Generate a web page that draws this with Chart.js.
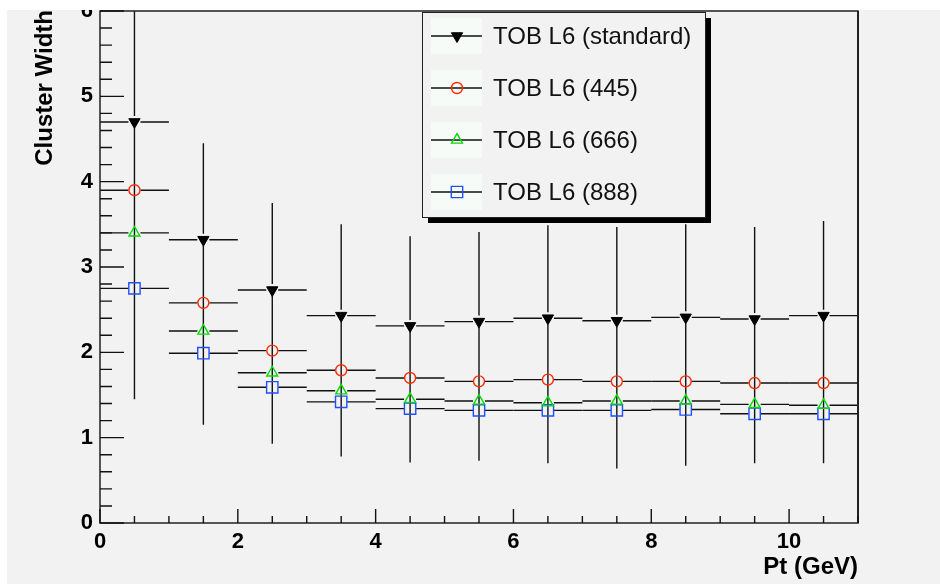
<!DOCTYPE html>
<html>
<head>
<meta charset="utf-8">
<title>TOB L6 cluster width vs Pt</title>
<script src="https://cdn.jsdelivr.net/npm/chart.js@4.4.1/dist/chart.umd.min.js"></script>
<style>
  html, body { margin: 0; padding: 0; background: #fff; }
  canvas { display: block; }
</style>
</head>
<body>
<canvas id="chart" width="940" height="584"></canvas>
<script>
// ---------------- Data ----------------
const ptBins = [0.5, 1.5, 2.5, 3.5, 4.5, 5.5, 6.5, 7.5, 8.5, 9.5, 10.5];
const binHalfWidth = 0.5;

const seriesLabels = ["TOB L6 (standard)", "TOB L6 (445)", "TOB L6 (666)", "TOB L6 (888)"];

const widthStandard = [4.70, 3.32, 2.73, 2.43, 2.31, 2.36, 2.40, 2.37, 2.41, 2.39, 2.43];
const standardLow   = [1.45, 1.15, 0.93, 0.78, 0.71, 0.73, 0.70, 0.64, 0.67, 0.70, 0.70];
const standardHigh  = [7.95, 4.45, 3.75, 3.50, 3.36, 3.41, 3.49, 3.47, 3.50, 3.47, 3.54];
const width445 = [3.90, 2.58, 2.02, 1.79, 1.70, 1.66, 1.68, 1.66, 1.66, 1.64, 1.64];
const width666 = [3.40, 2.25, 1.76, 1.55, 1.45, 1.43, 1.41, 1.43, 1.43, 1.39, 1.38];
const width888 = [2.75, 1.99, 1.59, 1.42, 1.34, 1.32, 1.32, 1.32, 1.33, 1.28, 1.28];

const xTickValues = [0, 2, 4, 6, 8, 10];
const yTickValues = [0, 1, 2, 3, 4, 5, 6];
const xRange = [0, 11];
const yRange = [0, 6];

// ---------------- Styling ----------------
const BG = "#f2f2f2";
const INK = "#111";
const FONT = "'Liberation Sans', Arial, Helvetica, sans-serif";

function points(values) {
  return ptBins.map((x, i) => ({ x, y: values[i] }));
}

const datasets = [
  {
    label: seriesLabels[0], data: points(widthStandard),
    pointStyle: "triangle", pointRotation: 180, pointRadius: 6.5,
    pointBackgroundColor: "#000", pointBorderColor: "#000", pointBorderWidth: 1,
    errLow: standardLow, errHigh: standardHigh, markerGap: 6
  },
  {
    label: seriesLabels[1], data: points(width445),
    pointStyle: "circle", pointRadius: 5.5,
    pointBackgroundColor: "rgba(0,0,0,0)", pointBorderColor: "#ff2a00", pointBorderWidth: 1.4,
    markerGap: 6
  },
  {
    label: seriesLabels[2], data: points(width666),
    pointStyle: "triangle", pointRotation: 0, pointRadius: 6.3,
    pointBackgroundColor: "rgba(0,0,0,0)", pointBorderColor: "#00dd00", pointBorderWidth: 1.4,
    markerGap: 6
  },
  {
    label: seriesLabels[3], data: points(width888),
    pointStyle: "rect", pointRadius: 8, pointBackgroundColor: "rgba(0,0,0,0)",
    pointBorderColor: "#1f4fff", pointBorderWidth: 1.4,
    markerGap: 6
  }
];

// ---------------- Plugins ----------------
const background = {
  id: "background",
  beforeDraw(chart) {
    const { ctx, width, height } = chart;
    ctx.save();
    ctx.fillStyle = BG;
    ctx.fillRect(0, 0, width, height);
    ctx.restore();
  }
};

// horizontal bin-width bars for every series, vertical spread for the standard one
const errorBars = {
  id: "errorBars",
  beforeDatasetsDraw(chart) {
    const { ctx, chartArea: a, scales: { x, y } } = chart;
    ctx.save();
    ctx.beginPath();
    ctx.rect(a.left, a.top, a.right - a.left, a.bottom - a.top);
    ctx.clip();
    ctx.strokeStyle = INK;
    ctx.lineWidth = 1.4;
    chart.data.datasets.forEach(ds => {
      const g = ds.markerGap;
      ds.data.forEach((p, i) => {
        const px = x.getPixelForValue(p.x);
        const py = y.getPixelForValue(p.y);
        const x0 = x.getPixelForValue(p.x - binHalfWidth);
        const x1 = x.getPixelForValue(p.x + binHalfWidth);
        ctx.beginPath();
        ctx.moveTo(x0, py); ctx.lineTo(px - g, py);
        ctx.moveTo(px + g, py); ctx.lineTo(x1, py);
        if (ds.errLow) {
          ctx.moveTo(px, y.getPixelForValue(ds.errHigh[i])); ctx.lineTo(px, py - g);
          ctx.moveTo(px, py + g); ctx.lineTo(px, y.getPixelForValue(ds.errLow[i]));
        }
        ctx.stroke();
      });
    });
    ctx.restore();
  }
};

// frame, inward ticks, axis titles, legend box
const frame = {
  id: "frame",
  afterDraw(chart) {
    const { ctx, chartArea: a, scales: { x, y } } = chart;
    ctx.save();

    ctx.strokeStyle = "#222";
    ctx.lineWidth = 1.5;
    ctx.strokeRect(a.left, a.top, a.right - a.left, a.bottom - a.top);
    ctx.lineWidth = 2;
    ctx.beginPath();
    ctx.moveTo(a.right, a.top); ctx.lineTo(a.right, a.bottom);
    ctx.stroke();

    // y ticks every 0.2, major every 1
    ctx.lineWidth = 1.4;
    ctx.strokeStyle = INK;
    ctx.beginPath();
    for (let k = 0; k <= 30; k++) {
      const py = y.getPixelForValue(k * 0.2);
      const len = k % 5 === 0 ? 24 : 12;
      ctx.moveTo(a.left, py); ctx.lineTo(a.left + len, py);
    }
    // x ticks every 0.5, major every 2
    for (let k = 0; k <= 22; k++) {
      const px = x.getPixelForValue(k * 0.5);
      const len = k % 4 === 0 ? 14 : 7;
      ctx.moveTo(px, a.bottom); ctx.lineTo(px, a.bottom - len);
    }
    ctx.stroke();

    // axis titles
    ctx.fillStyle = "#000";
    ctx.font = "bold 24px " + FONT;
    ctx.textAlign = "right";
    ctx.textBaseline = "alphabetic";
    ctx.fillText("Pt (GeV)", a.right, 574);
    ctx.save();
    ctx.translate(52, a.top - 1);
    ctx.rotate(-Math.PI / 2);
    ctx.fillText("Cluster Width", 0, 0);
    ctx.restore();

    // legend
    const lx = 422, ly = 12, lw = 283, lh = 205;
    ctx.fillStyle = "#000";
    ctx.fillRect(lx + 6, ly + 6, lw, lh);
    ctx.fillStyle = BG;
    ctx.fillRect(lx, ly, lw, lh);
    ctx.strokeStyle = "#222";
    ctx.lineWidth = 1;
    ctx.strokeRect(lx + 0.5, ly + 0.5, lw, lh);

    const rowH = 52;
    chart.data.datasets.forEach((ds, i) => {
      const cy = 36 + i * rowH;
      ctx.fillStyle = "#f7fbf7";
      ctx.fillRect(431, cy - 18, 51, 36);
      ctx.strokeStyle = INK;
      ctx.lineWidth = 1.4;
      ctx.beginPath();
      ctx.moveTo(431, cy); ctx.lineTo(482, cy);
      ctx.stroke();
      ctx.fillStyle = ds.pointBackgroundColor;
      ctx.strokeStyle = ds.pointBorderColor;
      ctx.lineWidth = ds.pointBorderWidth;
      Chart.helpers.drawPoint(ctx, {
        pointStyle: ds.pointStyle, radius: ds.pointRadius,
        rotation: ds.pointRotation || 0, borderWidth: ds.pointBorderWidth
      }, 457, cy);
      ctx.fillStyle = "#111";
      ctx.font = "24px " + FONT;
      ctx.textAlign = "left";
      ctx.textBaseline = "middle";
      ctx.fillText(ds.label, 493, cy + 1);
    });

    // page margin outside the pad
    ctx.fillStyle = "#fff";
    ctx.fillRect(0, 0, chart.width, 10);
    ctx.fillRect(0, 0, 7, chart.height);
    ctx.restore();
  }
};

// ---------------- Chart ----------------
new Chart(document.getElementById("chart"), {
  type: "scatter",
  data: { datasets },
  options: {
    responsive: false,
    animation: false,
    devicePixelRatio: 1,
    layout: { padding: { left: 7, top: 11, right: 82, bottom: 0 } },
    plugins: { legend: { display: false }, tooltip: { enabled: false } },
    scales: {
      x: {
        type: "linear", min: xRange[0], max: xRange[1],
        afterFit: s => { s.height = 61; s.paddingLeft = 0; s.paddingRight = 0; },
        afterBuildTicks: s => { s.ticks = xTickValues.map(v => ({ value: v })); },
        grid: { display: false, drawTicks: false },
        border: { display: false },
        ticks: { color: "#000", padding: 6, font: { family: FONT, size: 22, weight: "bold" }, maxRotation: 0 }
      },
      y: {
        type: "linear", min: yRange[0], max: yRange[1],
        afterFit: s => { s.width = 93; s.paddingTop = 0; s.paddingBottom = 0; },
        afterBuildTicks: s => { s.ticks = yTickValues.map(v => ({ value: v })); },
        grid: { display: false, drawTicks: false },
        border: { display: false },
        ticks: { color: "#000", padding: 7, font: { family: FONT, size: 22, weight: "bold" } }
      }
    }
  },
  plugins: [background, errorBars, frame]
});
</script>
</body>
</html>
